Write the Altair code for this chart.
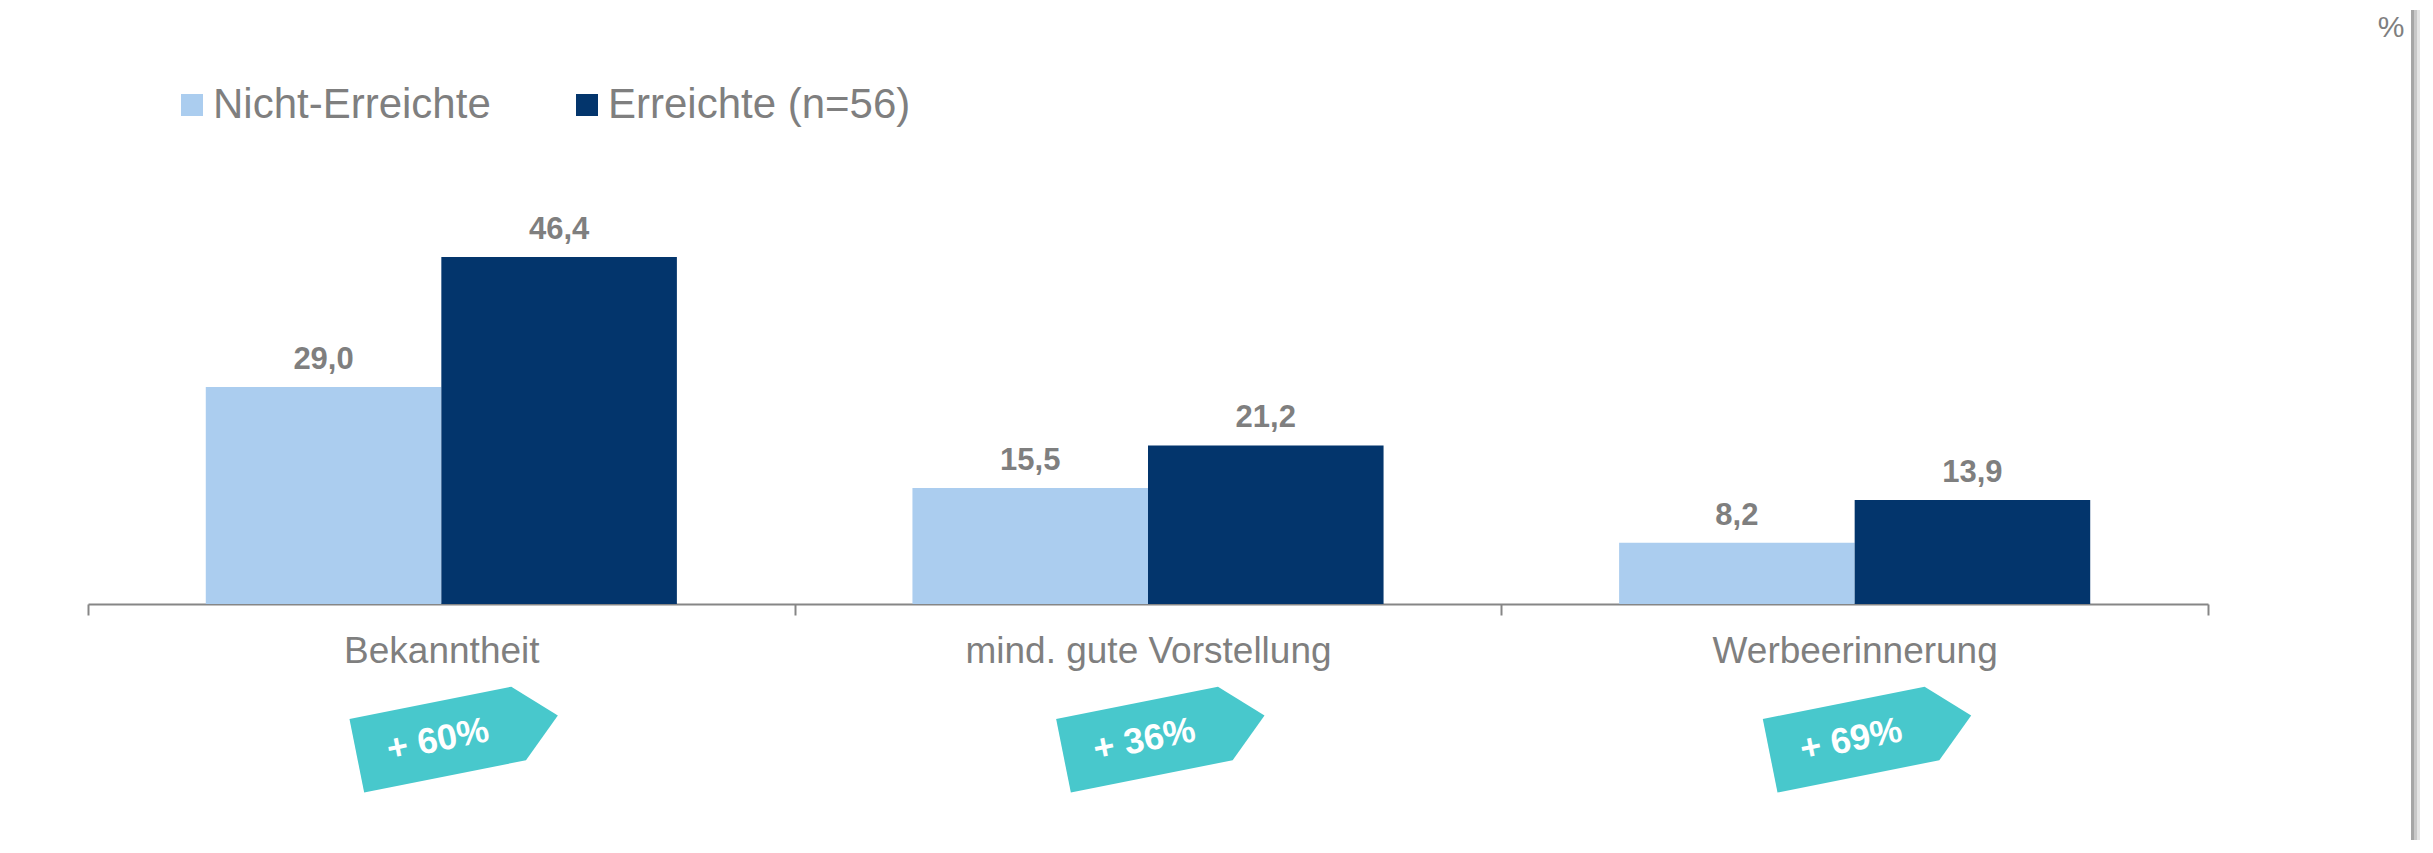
import altair as alt
import pandas as pd

# ---- data ----
categories = ["Bekanntheit", "mind. gute Vorstellung", "Werbeerinnerung"]
series = ["Nicht-Erreichte", "Erreichte (n=56)"]
nicht_erreichte = [29.0, 15.5, 8.2]
erreichte = [46.4, 21.2, 13.9]
tag_labels = ["+ 60%", "+ 36%", "+ 69%"]
unit_label = ["%"]

colors = ["#ABCDEF", "#03356C"]
TEAL = "#48C8CC"
GRAY = "#7F7F7F"
AXIS_GRAY = "#868686"
FONT = "Liberation Sans"

rows = []
for i, c in enumerate(categories):
    rows.append({"category": c, "series": series[0], "value": nicht_erreichte[i]})
    rows.append({"category": c, "series": series[1], "value": erreichte[i]})
df = pd.DataFrame(rows)
tags = pd.DataFrame({"category": categories, "tag": tag_labels})
unit_df = pd.DataFrame({"t": unit_label})

W, H = 2120, 374

x = alt.X(
    "category:N",
    sort=categories,
    scale=alt.Scale(domain=categories, paddingInner=0, paddingOuter=0),
    axis=alt.Axis(
        title=None, labelAngle=0, labelFont=FONT, labelFontSize=37, labelColor=GRAY,
        labelPadding=18, labelLimit=0, domainColor=AXIS_GRAY, domainWidth=2,
        tickColor=AXIS_GRAY, tickWidth=2, tickSize=11, tickBand="extent", grid=False,
    ),
)
y = alt.Y("value:Q", scale=alt.Scale(domain=[0, 50], nice=False, zero=True), axis=None)
xo = alt.XOffset("series:N", sort=series,
                 scale=alt.Scale(domain=series, paddingInner=0, paddingOuter=0.5))
color = alt.Color(
    "series:N", sort=series,
    scale=alt.Scale(domain=series, range=colors),
    legend=alt.Legend(
        title=None, orient="none", legendX=83, legendY=-146, direction="horizontal",
        symbolType="square", symbolSize=484, symbolStrokeWidth=0, symbolOpacity=1,
        labelFont=FONT, labelFontSize=42, labelColor=GRAY, labelOffset=0, labelLimit=0,
        columnPadding=75, padding=0,
    ),
)

bars = alt.Chart(df).mark_bar().encode(x=x, xOffset=xo, y=y, color=color)

values = alt.Chart(df).transform_calculate(
    label="replace(format(datum.value, '.1f'), '.', ',')"
).mark_text(
    font=FONT, fontWeight="bold", fontSize=31, color=GRAY, baseline="alphabetic", dy=-18
).encode(x=x, xOffset=xo, y=y, text="label:N")

TAG_PATH = "M-1,-0.366L0.61,-0.366L1,0L0.61,0.366L-1,0.366Z"
tag_shapes = alt.Chart(tags).mark_point(
    shape=TAG_PATH, size=42025, filled=True, color=TEAL, opacity=1, strokeWidth=0,
    angle=348.7, xOffset=16,
).encode(x=x, y=alt.value(505.7))

tag_text = alt.Chart(tags).mark_text(
    font=FONT, fontWeight="bold", fontSize=36, color="white", angle=348.7,
    xOffset=-3.5, align="center", baseline="middle",
).encode(x=x, y=alt.value(510), text="tag:N")

unit = alt.Chart(unit_df).mark_text(
    font=FONT, fontSize=30, color=GRAY, align="center", baseline="alphabetic"
).encode(x=alt.value(2303), y=alt.value(-193), text="t:N")

shadow_layers = []
for xv, col in [(2324.5, "#a6a6a6"), (2327.5, "#c8c8c8"), (2330.5, "#e4e4e4")]:
    shadow_layers.append(
        alt.Chart(unit_df).mark_rule(color=col, strokeWidth=3).encode(
            x=alt.value(xv), y=alt.value(-220), y2=alt.value(610)
        )
    )

chart = alt.layer(bars, values, tag_shapes, tag_text, unit, *shadow_layers).properties(
    width=W, height=H,
    autosize=alt.AutoSizeParams(type="none"),
    padding={"left": 80, "top": 222, "right": 214, "bottom": 236},
    background="white",
).configure_view(stroke=None)

chart.save("out.html", embed_options={"renderer": "svg", "actions": False})
